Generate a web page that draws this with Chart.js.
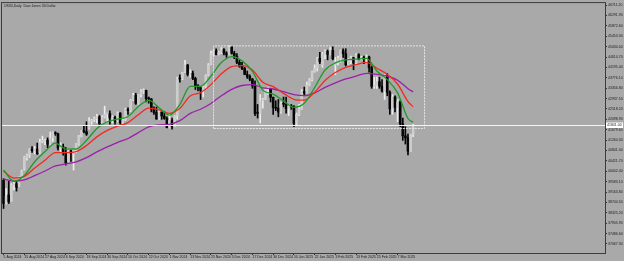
<!DOCTYPE html>
<html><head><meta charset="utf-8">
<script src="https://cdn.jsdelivr.net/npm/chart.js@4/dist/chart.umd.min.js"></script>
<style>html,body{margin:0;padding:0;background:#a9a9a9;overflow:hidden}#wrap{width:624px;height:261px;position:relative}</style>
</head><body><div id="wrap"><canvas id="c" width="624" height="261"></canvas></div>
<script>
const chartTitle = "US30,Daily  Dow Jones 30 Dollar";
const openP = [39630,38740,39050,38800,39420,39500,39400,39780,40100,40530,40650,40900,40830,40900,40750,41200,41220,41260,41100,41350,
41560,41520,40920,40990,40760,40400,40830,40700,40860,41100,41400,41640,41600,41750,42020,42070,42130,42200,41950,42180,
42300,42330,42150,42180,42050,42350,41960,42080,42500,42450,42880,43070,42750,43100,43240,43270,42930,42920,42520,42380,
42150,42390,42230,42140,41780,42050,41800,42250,43730,43750,44000,44290,43920,43960,43750,43450,43380,43270,43410,43880,
44300,44740,44860,44720,44800,44910,44780,44710,45010,44770,44640,44400,44250,44150,43910,43830,43720,43450,42350,42340,
42840,42910,43290,43320,42990,42580,42550,42400,42730,42700,42530,42630,42600,41940,42300,42520,43220,43160,43490,43700,
44030,44160,44560,44300,44710,44850,44720,44880,44300,44420,44560,44870,44750,44320,44470,44590,44370,44710,44550,44600,
44550,44620,44180,43430,43460,43620,43430,43240,43840,43190,42520,43000,42580,42800,41910,41430,41350,40820,41490];
const highP = [39700,39300,39600,39500,39560,39600,39780,40050,40600,40700,40910,41000,41000,41140,41300,41420,41300,41350,41590,41590,
41600,41540,41150,41100,40960,40900,40850,40900,41120,41450,41650,41850,42000,42170,42100,42190,42300,42250,42250,42630,
42350,42440,42250,42230,42400,42370,42120,42550,42560,42900,43150,43150,43100,43300,43330,43280,43000,42940,42600,42600,
42450,42400,42400,42200,42350,42150,42250,43800,43900,44000,44480,44320,44100,44050,43800,43500,43420,43450,43900,44350,
44850,44900,44950,44850,45000,44960,44830,45074,45050,44850,44750,44500,44400,44200,44050,43900,43750,43650,42700,43100,
42950,43300,43400,43350,43000,42850,42900,42800,43000,43000,42700,42700,42650,42350,42700,43300,43400,43600,43750,44050,
44300,44600,44800,44800,44900,44900,45000,45050,44600,44650,44900,44950,44950,44550,44650,44600,44750,44750,44650,44650,
44700,44650,44250,43800,43800,43800,43700,43900,43950,43250,43100,43050,42900,42850,42150,41800,41500,41500,41900];
const lowP = [38499,38680,38700,38780,39250,39200,39380,39700,40050,40450,40560,40760,40700,40680,40700,41150,41080,40950,41050,41200,
41450,40850,40800,40650,40250,40380,40400,40050,40750,41050,41380,41550,41450,41700,41900,42000,41950,41900,41950,42150,
42000,41900,41950,41900,42000,41900,41850,42050,42300,42400,42850,42700,42700,43000,43150,42800,42750,42400,42300,42100,
42100,42100,42100,41750,41750,41700,41800,42100,43600,43700,43980,43850,43800,43700,43300,43250,42900,43000,43350,43850,
44300,44650,44700,44700,44750,44700,44600,44700,44730,44550,44350,44200,44100,43900,43750,43650,43350,42250,42150,41950,
42550,42900,43100,42800,42300,42450,42200,42350,42600,42350,42250,42500,41800,41850,42250,42500,43050,43150,43450,43650,
44000,44050,44350,44200,44550,44500,44700,44500,43900,44300,44400,44600,44250,44300,44350,44100,44300,44500,44500,44350,
44400,44000,43350,43350,43350,43350,43200,42900,43050,42300,42300,42400,42000,41800,41250,41100,40660,40800,41400];
const closeP = [38703,38997,38763,39446,39497,39357,39765,40008,40563,40659,40896,40834,40890,40712,41175,41240,41250,41091,41335,41563,
41520,40937,40975,40755,40345,40829,40736,40861,41097,41394,41622,41606,41503,42025,42063,42124,42208,41915,42175,42313,
42330,42156,42196,42011,42352,41954,42080,42512,42454,42864,43065,42740,43077,43239,43275,42931,42924,42514,42374,42114,
42387,42233,42141,41763,42052,41794,42221,43729,43729,43989,44293,43911,43958,43751,43445,43390,43269,43408,43870,44297,
44736,44860,44722,44800,44910,44782,44705,45014,44765,44643,44401,44248,44149,43914,43828,43717,43450,42326,42343,42840,
42906,43297,43326,42992,42574,42544,42392,42732,42706,42528,42635,42600,41938,42297,42518,43222,43153,43488,43700,44025,
44157,44565,44424,44714,44850,44714,44882,44545,44422,44556,44873,44748,44303,44470,44593,44368,44711,44546,44600,44556,
44627,44177,43428,43461,43621,43433,43240,43841,43191,42521,43006,42579,42802,41912,41433,41350,40813,41488,41841];

const maBars = [0,4,8,12,16,20,24,28,32,36,40,44,48,52,56,60,64,68,72,76,80,84,88,92,96,100,104,108,112,116,120,124,128,132,136,140,144,148,152,156,158];
const greenMA = [40050,39598,39831,40385,40798,41138,40897,40901,41252,41732,42000,42105,42211,42616,42861,42570,42270,42699,43431,43429,
43847,44390,44628,44458,44034,43276,43114,42839,42584,42746,43383,44092,44377,44497,44526,44560,44049,43702,43169,42133,41984];
const redMA = [40000,39728,39792,40131,40449,40755,40754,40796,41039,41391,41652,41826,41966,42286,42552,42484,42340,42544,43037,43178,
43500,43937,44227,44271,44091,43600,43418,43146,42908,42872,43192,43669,43990,44198,44310,44400,44160,43918,43525,42816,42609];
const purpleMA = [39680,39605,39652,39825,40013,40215,40295,40382,40552,40782,40989,41165,41326,41564,41790,41872,41898,42046,42341,42507,
42740,43048,43310,43465,43504,43371,43323,43215,43098,43054,43171,43388,43573,43728,43848,43957,43915,43843,43678,43337,43208];

const dateTickBars = [0,8,16,24,32,40,48,56,64,72,80,88,96,104,112,120,128,136,144,152];
const dateTickLabels = ["5 Aug 2024","15 Aug 2024","27 Aug 2024","6 Sep 2024","18 Sep 2024","30 Sep 2024","10 Oct 2024","22 Oct 2024",
"1 Nov 2024","13 Nov 2024","25 Nov 2024","5 Dec 2024","17 Dec 2024","30 Dec 2024","10 Jan 2025","22 Jan 2025","3 Feb 2025",
"13 Feb 2025","25 Feb 2025","7 Mar 2025"];
const priceTicks = [46711.20,46291.90,45872.60,45453.30,45034.00,44614.70,44195.40,43776.10,43356.80,42937.50,42518.20,42098.90,
41679.60,41260.30,40841.00,40421.70,40002.40,39583.10,39163.80,38744.50,38325.20,37905.90,37486.60,37067.30];

const rectBars = [81, 162.4];
const rectPrices = [41727, 45063];

const BULL_FILL = '#cdcdcd', BULL_LINE = '#ececec', BEAR = '#050505';
const isBull = closeP.map((c, i) => c >= openP[i]);

const wickData = highP.map((h, i) => ({ x: i, y: [lowP[i], h] }));
const bodyData = openP.map((o, i) => ({ x: i, y: [Math.min(o, closeP[i]), Math.max(o, closeP[i])] }));
const maPoints = arr => maBars.map((b, k) => ({ x: b, y: arr[k] }));
const rectData = [
  { x: rectBars[0], y: rectPrices[0] }, { x: rectBars[0], y: rectPrices[1] },
  { x: rectBars[1], y: rectPrices[1] }, { x: rectBars[1], y: rectPrices[0] },
  { x: rectBars[0], y: rectPrices[0] }
];

const FONT = 'Liberation Sans';
const FS = 3.5;
const lastClose = closeP[closeP.length - 1];

const mtPlugin = {
  id: 'mt',
  beforeDraw(chart) {
    const ctx = chart.ctx;
    ctx.save();
    ctx.fillStyle = '#a9a9a9';
    ctx.fillRect(0, 0, chart.width, chart.height);
    ctx.restore();
  },
  afterDatasetsDraw(chart) {
    const ctx = chart.ctx, a = chart.chartArea;
    const y = Math.round(chart.scales.y.getPixelForValue(lastClose)) - 0.5;
    ctx.save();
    ctx.strokeStyle = '#f4f4f4';
    ctx.lineWidth = 1;
    ctx.beginPath(); ctx.moveTo(a.left, y); ctx.lineTo(a.right, y); ctx.stroke();
    ctx.restore();
  },
  afterDraw(chart) {
    const ctx = chart.ctx, a = chart.chartArea;
    ctx.save();
    ctx.strokeStyle = '#3c3c3c';
    ctx.lineWidth = 1;
    ctx.strokeRect(a.left - 0.5, a.top - 0.5, a.right - a.left + 1, a.bottom - a.top + 1);
    ctx.fillStyle = '#1a1a1a';
    ctx.font = FS + 'px "' + FONT + '"';
    ctx.textBaseline = 'middle';
    ctx.textAlign = 'left';
    ctx.fillText(chartTitle, a.left + 2, a.top + 3);
    const y = Math.round(chart.scales.y.getPixelForValue(lastClose)) - 1;
    ctx.fillStyle = '#ffffff';
    ctx.fillRect(a.right + 1, y - 2.5, 17, 5.5);
    ctx.fillStyle = '#222';
    ctx.fillText(lastClose.toFixed(2), a.right + 2, y + 0.3);
    ctx.restore();
  }
};

new Chart(document.getElementById('c'), {
  type: 'bar',
  data: {
    datasets: [
      { type: 'line', label: 'rect', data: rectData, borderColor: 'rgba(236,236,236,0.9)', borderWidth: 1,
        borderDash: [2, 1], pointRadius: 0, tension: 0, order: -1 },
      { type: 'line', label: 'MA10', data: maPoints(greenMA), borderColor: '#1f9a26', borderWidth: 1.3,
        pointRadius: 0, cubicInterpolationMode: 'monotone', order: 0 },
      { type: 'line', label: 'MA20', data: maPoints(redMA), borderColor: '#f22a22', borderWidth: 1.3,
        pointRadius: 0, cubicInterpolationMode: 'monotone', order: 0 },
      { type: 'line', label: 'MA50', data: maPoints(purpleMA), borderColor: '#9b20aa', borderWidth: 1.3,
        pointRadius: 0, cubicInterpolationMode: 'monotone', order: 0 },
      { type: 'bar', label: 'body', data: bodyData, barThickness: 2, minBarLength: 1, grouped: false,
        backgroundColor: isBull.map(b => b ? BULL_FILL : BEAR), borderWidth: 0, order: 1 },
      { type: 'bar', label: 'wick', data: wickData, barThickness: 1, grouped: false,
        backgroundColor: isBull.map(b => b ? BULL_LINE : BEAR), borderWidth: 0, order: 2 }
    ]
  },
  options: {
    responsive: false,
    animation: false,
    devicePixelRatio: 1,
    layout: { padding: { left: 2, top: 2, right: 0, bottom: 0 } },
    plugins: { legend: { display: false }, tooltip: { enabled: false } },
    scales: {
      x: {
        type: 'linear', min: -0.6, max: 232, offset: false,
        afterBuildTicks: s => { s.ticks = dateTickBars.map(v => ({ value: v })); },
        afterFit: s => { s.height = 8; },
        ticks: {
          autoSkip: false, maxRotation: 0, align: 'start', padding: 0,
          font: { family: FONT, size: FS }, color: '#1a1a1a',
          callback: v => dateTickLabels[dateTickBars.indexOf(v)] || ''
        },
        grid: { offset: false, drawOnChartArea: false, drawTicks: true, tickLength: 2, color: '#333' },
        border: { display: true, color: '#3c3c3c' }
      },
      y: {
        type: 'linear', position: 'right', min: 36701, max: 46792,
        afterBuildTicks: s => { s.ticks = priceTicks.map(v => ({ value: v })); },
        afterFit: s => { s.width = 19; },
        ticks: {
          autoSkip: false, padding: 1,
          font: { family: FONT, size: FS }, color: '#1a1a1a',
          callback: v => Number(v).toFixed(2)
        },
        grid: { drawOnChartArea: false, drawTicks: true, tickLength: 2, color: '#333' },
        border: { display: true, color: '#3c3c3c' }
      }
    }
  },
  plugins: [mtPlugin]
});
</script>
</body></html>
